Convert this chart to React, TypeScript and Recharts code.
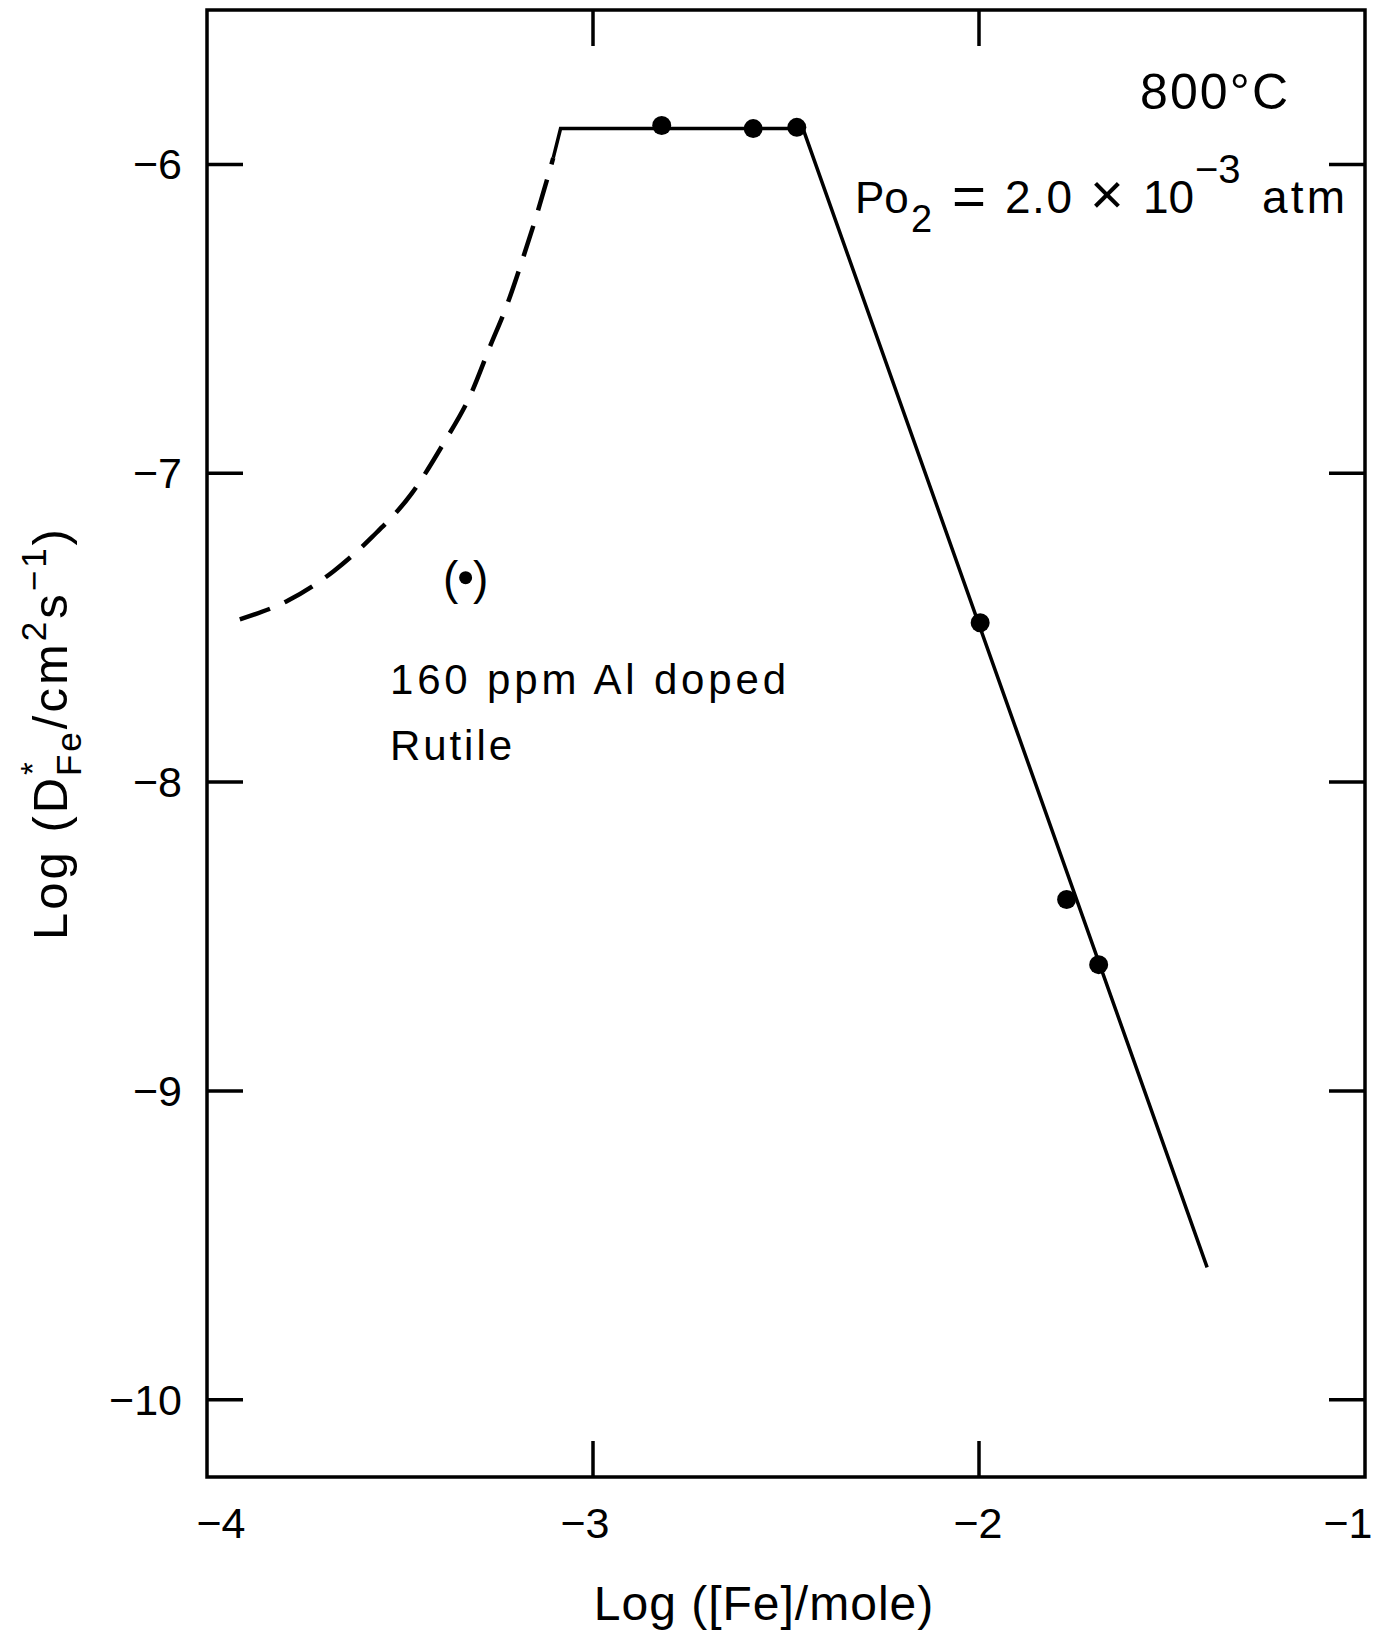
import React from "react";
import { ComposedChart, Line, Scatter, XAxis, YAxis, ReferenceArea } from "recharts";

// values: Log([Fe]/mole) vs Log(D*Fe / cm^2 s^-1)
const xTicks = [-4, -3, -2, -1];
const yTicks = [-10, -9, -8, -7, -6];

const dashedX = [-3.915, -3.79, -3.672, -3.572, -3.47, -3.388, -3.318, -3.266, -3.224, -3.184, -3.145, -3.103];
const dashedY = [-7.473, -7.412, -7.317, -7.206, -7.066, -6.905, -6.748, -6.587, -6.459, -6.313, -6.16, -5.979];

const solidX = [-3.103, -3.084, -2.456, -1.409];
const solidY = [-5.979, -5.884, -5.884, -9.571];

const pointX = [-2.822, -2.585, -2.472, -1.997, -1.773, -1.69];
const pointY = [-5.874, -5.884, -5.88, -7.484, -8.38, -8.591];

const bracketX = [-3.33];
const bracketY = [-7.338];

const dashed = dashedX.map((x, i) => ({ x, y: dashedY[i] }));
const solid = solidX.map((x, i) => ({ x, y: solidY[i] }));
const points = pointX.map((x, i) => ({ x, y: pointY[i] }));
const bracketed = bracketX.map((x, i) => ({ x, y: bracketY[i] }));

const W = 1382;
const H = 1632;
const PLOT = { left: 207, top: 10, right: 1365, bottom: 1477 };
const YW = 120;
const XH = 80;
const TICK = 36;
const FONT = '"Liberation Sans", Arial, Helvetica, sans-serif';

const xLabelShift: Record<number, number> = { [-4]: 14, [-3]: -8, [-2]: -1, [-1]: -17 };

function YTick(props: any) {
  const { y, payload } = props;
  return (
    <g>
      <text x={PLOT.left - 25} y={y + 15} textAnchor="end" fontSize={43} fontFamily={FONT} fill="#000">
        {"\u2212" + Math.abs(payload.value)}
      </text>
      <line x1={PLOT.left} x2={PLOT.left + TICK} y1={y} y2={y} stroke="#000" strokeWidth={3.5} />
      <line x1={PLOT.right - TICK} x2={PLOT.right} y1={y} y2={y} stroke="#000" strokeWidth={3.5} />
    </g>
  );
}

function XTick(props: any) {
  const { x, payload } = props;
  const v = payload.value;
  const inner = v !== -4 && v !== -1;
  return (
    <g>
      <text x={x + (xLabelShift[v] || 0)} y={PLOT.bottom + 61} textAnchor="middle" fontSize={43} fontFamily={FONT} fill="#000">
        {"\u2212" + Math.abs(v)}
      </text>
      {inner && <line x1={x} x2={x} y1={PLOT.bottom} y2={PLOT.bottom - TICK} stroke="#000" strokeWidth={3.5} />}
      {inner && <line x1={x} x2={x} y1={PLOT.top} y2={PLOT.top + TICK} stroke="#000" strokeWidth={3.5} />}
    </g>
  );
}

function Dot(props: any) {
  return <circle cx={props.cx} cy={props.cy} r={9.5} fill="#000" />;
}

function SmallDot(props: any) {
  return <circle cx={props.cx} cy={props.cy} r={6.5} fill="#000" />;
}

function Annotations() {
  const t = { fontFamily: FONT, fill: "#000" };
  return (
    <g>
      <text x={1140} y={109} fontSize={50} textLength={148} lengthAdjust="spacing" {...t}>800°C</text>

      <text x={855} y={213} fontSize={44} {...t}>Po</text>
      <text x={911} y={232} fontSize={38} {...t}>2</text>
      <text x={952} y={215} fontSize={56} textLength={34} lengthAdjust="spacingAndGlyphs" {...t}>=</text>
      <text x={1005} y={213} fontSize={46} textLength={67} lengthAdjust="spacing" {...t}>2.0</text>
      <text x={1090} y={214} fontSize={58} {...t}>×</text>
      <text x={1143} y={213} fontSize={46} {...t}>10</text>
      <text x={1195} y={183} fontSize={40} {...t}>{"\u22123"}</text>
      <text x={1262} y={213} fontSize={46} textLength={83} lengthAdjust="spacing" {...t}>atm</text>

      <text x={443} y={594} fontSize={46} {...t}>(</text>
      <text x={473} y={594} fontSize={46} {...t}>)</text>

      <text x={390} y={694} fontSize={42} textLength={396} lengthAdjust="spacing" {...t}>160 ppm Al doped</text>
      <text x={390} y={760} fontSize={42} textLength={122} lengthAdjust="spacing" {...t}>Rutile</text>

      <text x={764} y={1620} fontSize={48} textAnchor="middle" letterSpacing={1} {...t}>Log ([Fe]/mole)</text>

      <text
        x={733}
        y={67}
        fontSize={49}
        textAnchor="middle"
        letterSpacing={3}
        transform="rotate(-90) translate(-1466 0)"
        {...t}
      >
        Log (D
        <tspan dy={-23} fontSize={33}>*</tspan>
        <tspan dx={-17} dy={37} fontSize={35}>Fe</tspan>
        <tspan dy={-14}>/cm</tspan>
        <tspan dy={-21} fontSize={35}>2</tspan>
        <tspan dy={21}>s</tspan>
        <tspan dy={-21} fontSize={35}>{"\u22121"}</tspan>
        <tspan dy={21}>)</tspan>
      </text>
    </g>
  );
}

export default function App() {
  return (
    <div style={{ position: "absolute", left: 0, top: 0, width: W, height: H, background: "#fff" }}>
      <ComposedChart
        width={W}
        height={H}
        margin={{ top: PLOT.top, right: W - PLOT.right, bottom: H - PLOT.bottom - XH, left: PLOT.left - YW }}
      >
        <XAxis
          type="number"
          dataKey="x"
          domain={[-4, -1]}
          ticks={xTicks}
          interval={0}
          height={XH}
          axisLine={false}
          tickLine={false}
          tickSize={0}
          tick={<XTick />}
          allowDataOverflow
        />
        <YAxis
          type="number"
          dataKey="y"
          domain={[-10.25, -5.5]}
          ticks={yTicks}
          interval={0}
          width={YW}
          axisLine={false}
          tickLine={false}
          tickSize={0}
          tick={<YTick />}
          allowDataOverflow
        />
        <ReferenceArea x1={-4} x2={-1} y1={-10.25} y2={-5.5} fill="none" fillOpacity={0} stroke="#000" strokeWidth={3.5} />
        <Line data={dashed} dataKey="y" type="monotone" stroke="#000" strokeWidth={4.5} strokeDasharray="32 16" dot={false} isAnimationActive={false} />
        <Line data={solid} dataKey="y" type="linear" stroke="#000" strokeWidth={3.5} dot={false} isAnimationActive={false} />
        <Scatter data={points} dataKey="y" shape={<Dot />} isAnimationActive={false} />
        <Scatter data={bracketed} dataKey="y" shape={<SmallDot />} isAnimationActive={false} />
        <Annotations />
      </ComposedChart>
    </div>
  );
}
